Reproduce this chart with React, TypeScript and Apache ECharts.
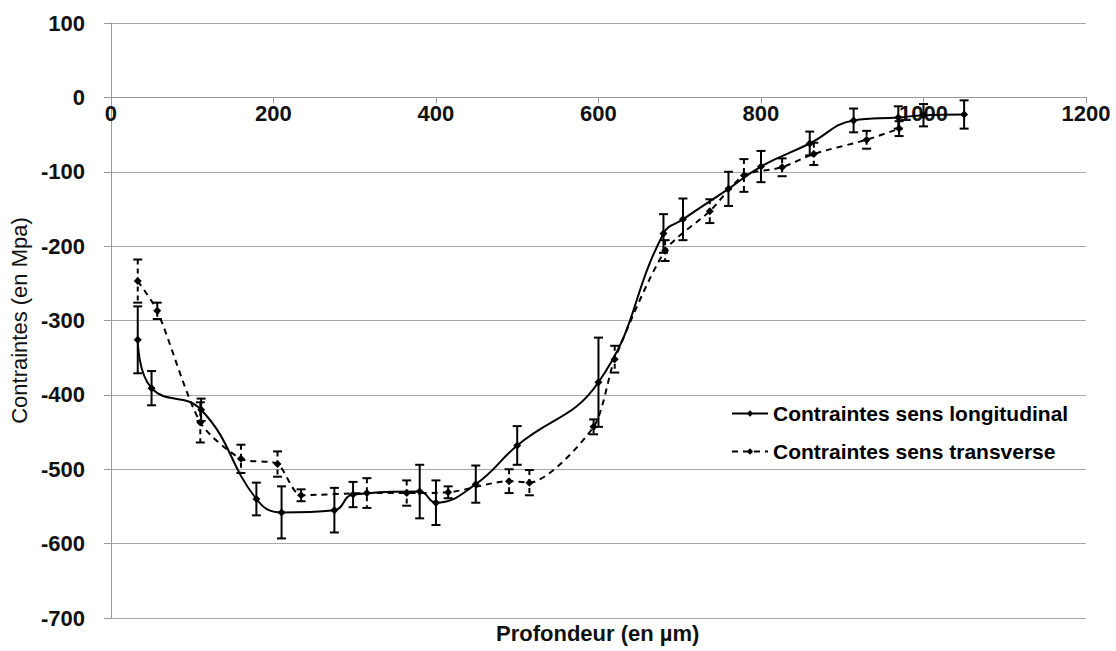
import React, { useEffect, useRef } from "react";
import * as echarts from "echarts";

// Longitudinal: [depth (µm), stress (MPa), error (MPa)]
const longX = [33, 50, 111, 179, 210, 275, 298, 380, 400, 449, 500, 600, 680, 704, 760, 800, 860, 914, 969, 1000, 1050];
const longY = [-326, -391, -420, -540, -558, -555, -534, -530, -545, -520, -468, -383, -183, -164, -123, -93, -62, -31, -27, -24, -23];
const longErr = [45, 23, 15, 22, 35, 30, 17, 36, 30, 25, 26, 60, 26, 28, 23, 21, 16, 16, 15, 15, 19];

const transX = [33, 57, 110, 160, 205, 234, 315, 364, 415, 490, 515, 594, 620, 682, 737, 779, 826, 865, 930, 970];
const transY = [-247, -287, -437, -486, -493, -535, -532, -532, -531, -516, -518, -443, -352, -206, -153, -105, -94, -76, -57, -42];
const transErr = [29, 11, 27, 19, 17, 8, 20, 17, 8, 16, 17, 10, 18, 14, 16, 22, 12, 15, 12, 10];

const xTicks = { min: 0, max: 1200, interval: 200 };
const yTicks = { min: -700, max: 100, interval: 100 };

const nameLong = "Contraintes sens longitudinal";
const nameTrans = "Contraintes sens transverse";
const xTitle = "Profondeur (en µm)";
const yTitle = "Contraintes (en Mpa)";

const FONT = "Liberation Sans";

function errorBarSeries(xs: number[], ys: number[], es: number[], dashed: boolean) {
  return {
    type: "custom",
    silent: true,
    z: 3,
    data: xs.map((x, i) => [x, ys[i], es[i]]),
    encode: { x: 0, y: 1 },
    renderItem: (params: any, api: any) => {
      const x = api.value(0);
      const y = api.value(1);
      const e = api.value(2);
      const top = api.coord([x, y + e]);
      const bot = api.coord([x, y - e]);
      const hw = 4.5;
      const st = { stroke: "#000", lineWidth: 2, lineDash: dashed ? [5, 4] : undefined };
      const cap = { stroke: "#000", lineWidth: 2 };
      return {
        type: "group",
        children: [
          { type: "line", shape: { x1: top[0], y1: top[1], x2: bot[0], y2: bot[1] }, style: st },
          { type: "line", shape: { x1: top[0] - hw, y1: top[1], x2: top[0] + hw, y2: top[1] }, style: cap },
          { type: "line", shape: { x1: bot[0] - hw, y1: bot[1], x2: bot[0] + hw, y2: bot[1] }, style: cap },
        ],
      };
    },
  };
}

export default function App() {
  const ref = useRef<HTMLDivElement>(null);
  useEffect(() => {
    if (!ref.current) return;
    const chart = echarts.init(ref.current, null, { renderer: "svg" });
    chart.setOption({
      animation: false,
      backgroundColor: "#fff",
      grid: { left: 108, right: 30, top: 23, bottom: 33 },
      legend: {
        data: [nameLong, nameTrans],
        orient: "vertical",
        left: 726,
        top: 398,
        itemWidth: 36,
        itemHeight: 8,
        itemGap: 17,
        textStyle: { fontFamily: FONT, fontWeight: "bold", fontSize: 21, color: "#000" },
      },
      xAxis: {
        type: "value",
        min: xTicks.min,
        max: xTicks.max,
        interval: xTicks.interval,
        axisLine: { onZero: false, lineStyle: { color: "#9a9a9a", width: 1 } },
        axisTick: { show: true, length: 6, lineStyle: { color: "#9a9a9a" } },
        axisLabel: {
          fontFamily: FONT,
          fontWeight: "bold",
          fontSize: 22,
          color: "#111",
          margin: 5,
          formatter: (v: number) => String(v),
        },
        splitLine: { show: false },
      },
      yAxis: {
        type: "value",
        min: yTicks.min,
        max: yTicks.max,
        interval: yTicks.interval,
        name: yTitle,
        nameLocation: "middle",
        nameGap: 78,
        nameTextStyle: { fontFamily: FONT, fontSize: 22, color: "#111" },
        axisLine: { show: true, onZero: false, lineStyle: { color: "#9a9a9a", width: 1 } },
        axisTick: { show: true, length: 7, lineStyle: { color: "#9a9a9a" } },
        axisLabel: { fontFamily: FONT, fontWeight: "bold", fontSize: 22, color: "#111", margin: 26 },
        splitLine: { show: true, lineStyle: { color: "#a8a8a8", width: 1 } },
      },
      graphic: [
        {
          type: "text",
          left: 496,
          top: 622,
          style: { text: xTitle, font: `bold 22px "${FONT}"`, fill: "#111" },
        },
      ],
      series: [
        errorBarSeries(longX, longY, longErr, false),
        errorBarSeries(transX, transY, transErr, true),
        {
          name: nameLong,
          type: "line",
          z: 4,
          data: longX.map((x, i) => [x, longY[i]]),
          smooth: 0.45,
          symbol: "diamond",
          symbolSize: 8,
          showAllSymbol: true,
          lineStyle: { color: "#000", width: 2 },
          itemStyle: { color: "#000" },
          markLine: {
            silent: true,
            symbol: "none",
            label: { show: false },
            lineStyle: { color: "#a8a8a8", type: "solid", width: 1.2 },
            data: [{ yAxis: yTicks.min }],
          },
        },
        {
          name: nameTrans,
          type: "line",
          z: 4,
          data: transX.map((x, i) => [x, transY[i]]),
          smooth: 0.25,
          symbol: "diamond",
          symbolSize: 8,
          showAllSymbol: true,
          lineStyle: { color: "#000", width: 2, type: [6, 5] },
          itemStyle: { color: "#000" },
        },
      ],
    });
    // place the x axis on the y = 0 line
    const zeroPx = chart.convertToPixel({ yAxisIndex: 0 }, 0) as number;
    const bottomPx = chart.convertToPixel({ yAxisIndex: 0 }, yTicks.min) as number;
    chart.setOption({ xAxis: { offset: zeroPx - bottomPx } });
    return () => chart.dispose();
  }, []);
  return <div ref={ref} style={{ position: "fixed", left: 0, top: 0, width: 1116, height: 651 }} />;
}
